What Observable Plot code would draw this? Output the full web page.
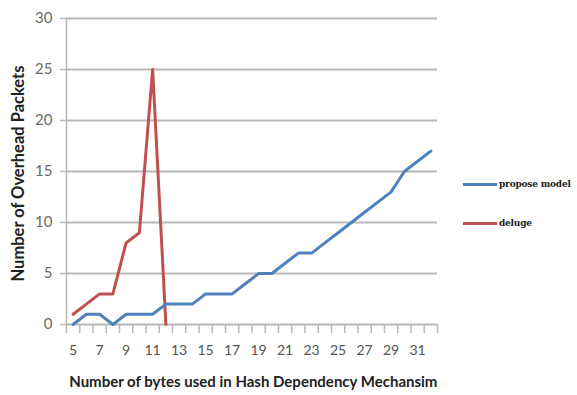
<!DOCTYPE html>
<html><head><meta charset="utf-8">
<script src="https://cdn.jsdelivr.net/npm/d3@7"></script>
<script src="https://cdn.jsdelivr.net/npm/@observablehq/plot@0.6"></script>
<style>
body{margin:0;background:#fff;}
#wrap{position:relative;width:577px;height:395px;overflow:hidden;}
.leg{position:absolute;left:463px;font-family:"DejaVu Serif","Liberation Serif",serif;font-weight:bold;font-size:9px;letter-spacing:-0.2px;color:#222;white-space:nowrap;}
.leg span{display:inline-block;width:34px;height:3px;vertical-align:middle;margin-right:2px;}
</style></head>
<body><div id="wrap"></div>
<script>
const bytes = [5,6,7,8,9,10,11,12,13,14,15,16,17,18,19,20,21,22,23,24,25,26,27,28,29,30,31,32];
const proposeModel = [0,1,1,0,1,1,1,2,2,2,3,3,3,4,5,5,6,7,7,8,9,10,11,12,13,15,16,17];
const delugeBytes = [5,6,7,8,9,10,11,12];
const deluge = [1,2,3,3,8,9,25,0];
const yTicks = [0,5,10,15,20,25,30];
const xLabels = [5,7,9,11,13,15,17,19,21,23,25,27,29,31];
const seriesNames = ["propose model","deluge"];
const colors = ["#4f81bd","#c0504d"];

const blue = bytes.map((b,i)=>({x:b,y:proposeModel[i]}));
const red = delugeBytes.map((b,i)=>({x:b,y:deluge[i]}));
const tickMarks = d3.range(bytes[0]-0.5, bytes[bytes.length-1]+1, 1);

const chart = Plot.plot({
  width:577, height:395,
  marginLeft:66, marginRight:140, marginTop:18, marginBottom:71,
  style:{fontFamily:"Lato, 'Open Sans', sans-serif", background:"#fff"},
  x:{type:"linear", domain:[4.5,32.5], axis:null},
  y:{type:"linear", domain:[0,30], axis:null},
  marks:[
    Plot.ruleY(yTicks.filter(d=>d>0), {y:d=>d, stroke:"#b8b8b8", strokeWidth:2}),
    Plot.ruleX([4.5], {x:d=>d, stroke:"#b8b8b8", strokeWidth:1.5}),
    Plot.ruleY([0], {y:d=>d, stroke:"#b8b8b8", strokeWidth:2}),
    Plot.ruleX(tickMarks, {x:d=>d, y1:()=>0, y2:()=>0, stroke:"#b8b8b8", strokeWidth:1.5, insetBottom:-9}),
    Plot.ruleY(yTicks, {y:d=>d, x1:()=>4.5, x2:()=>4.5, stroke:"#b8b8b8", strokeWidth:1.5, insetLeft:-6}),
    Plot.text(yTicks, {x:()=>4.5, y:d=>d, text:d=>String(d), dx:-14, textAnchor:"end", fontSize:15, fill:"#6a6a6a"}),
    Plot.text(xLabels, {x:d=>d, y:()=>0, text:d=>String(d), dy:26, fontSize:14, fill:"#555"}),
    Plot.line(red, {x:"x", y:"y", stroke:colors[1], strokeWidth:3}),
    Plot.line(blue, {x:"x", y:"y", stroke:colors[0], strokeWidth:3}),
    Plot.text(["Number of bytes used in Hash Dependency Mechansim"], {x:()=>18.6, y:()=>0, dy:58, text:d=>d, fontSize:15, fontWeight:"bold", fill:"#222"}),
    Plot.text(["Number of Overhead Packets"], {frameAnchor:"left", dx:-48, dy:2, textAnchor:"middle", text:d=>d, rotate:-90, fontSize:16.5, fontWeight:"bold", fill:"#222"})
  ]
});
const wrap = document.getElementById("wrap");
wrap.appendChild(chart);
const ys = [179, 218];
seriesNames.forEach((n,i)=>{
  const d = document.createElement("div");
  d.className="leg"; d.style.top = ys[i]+"px";
  d.innerHTML = `<span style="background:${colors[i]}"></span>${n}`;
  wrap.appendChild(d);
});
</script></body></html>
